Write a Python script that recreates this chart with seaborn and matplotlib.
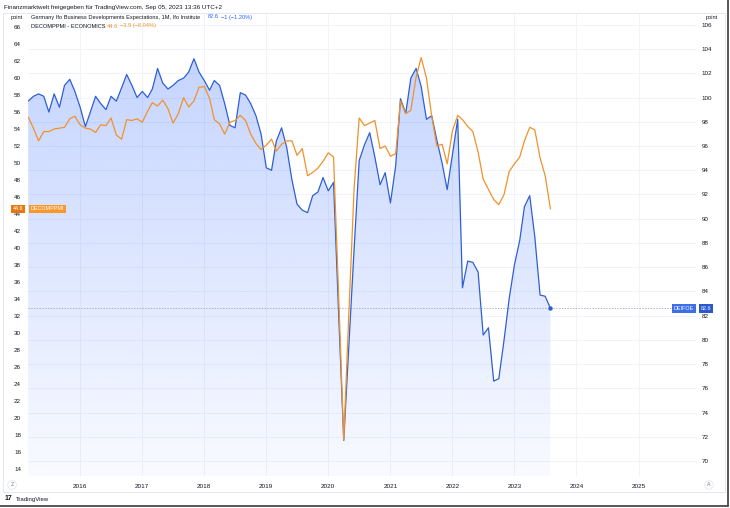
import numpy as np
import pandas as pd
import matplotlib
matplotlib.use("Agg")
import matplotlib.pyplot as plt
import matplotlib.dates as mdates
from matplotlib.colors import to_rgb
from matplotlib.patches import Rectangle
import seaborn as sns

# monthly data, Mar 2015 .. Aug 2023
months = pd.date_range("2015-03-01", "2023-08-01", freq="MS")

ifo_expectations = [
    99.7, 100.1, 100.3, 100.1, 98.8, 100.3, 99.2, 101.0, 101.5, 100.5,
    99.2, 97.6, 98.8, 100.1, 99.5, 99.0, 100.1, 99.7, 100.8, 101.9, 101.0, 100.0,
    100.5, 100.0, 100.7, 102.4, 101.2, 100.7, 101.0, 101.4, 101.6, 102.1, 103.2, 102.1,
    101.4, 100.6, 101.4, 101.0, 99.5, 97.7, 97.5, 100.4, 100.2, 99.5, 98.5, 97.0,
    94.2, 94.0, 96.4, 97.5, 95.9, 93.2, 91.2, 90.7, 90.5, 91.9, 92.2, 93.4,
    92.3, 93.0, 82.5, 71.7, 79.5, 87.5, 94.8, 96.1, 97.1, 95.1, 92.8, 93.8,
    91.3, 94.4, 99.9, 98.7, 101.6, 102.4, 100.9, 98.2, 98.5, 96.5, 94.6, 92.4,
    95.3, 98.2, 84.3, 86.5, 86.4, 85.6, 80.4, 81.0, 76.6, 76.8, 80.0, 83.4,
    86.2, 88.2, 91.0, 91.9, 88.5, 83.7, 83.6, 82.6,
]

composite_pmi = [
    55.4, 54.1, 52.6, 53.7, 53.7, 54.0, 54.1, 54.2, 55.2, 55.5,
    54.5, 54.1, 54.0, 53.6, 54.5, 54.4, 55.3, 53.3, 52.8, 55.1, 55.0, 55.2,
    54.8, 56.1, 57.1, 56.7, 57.4, 56.4, 54.7, 55.8, 57.7, 56.6, 57.3, 58.9,
    59.0, 57.6, 55.1, 54.6, 53.4, 54.8, 55.0, 55.6, 55.0, 53.4, 52.3, 51.6,
    52.1, 52.8, 51.4, 52.2, 52.6, 52.6, 50.9, 51.7, 48.5, 48.9, 49.4, 50.2,
    51.2, 50.7, 35.0, 17.4, 32.3, 47.0, 55.3, 54.4, 54.7, 55.0, 51.7, 52.0,
    50.8, 51.1, 57.3, 55.8, 56.2, 60.1, 62.4, 60.0, 55.5, 52.0, 52.2, 49.9,
    53.8, 55.6, 55.1, 54.3, 53.7, 51.3, 48.1, 46.9, 45.7, 45.1, 46.3, 49.0,
    49.9, 50.7, 52.6, 54.2, 53.9, 50.6, 48.5, 44.6,
]

left_ticks = list(range(14, 68, 2))
right_ticks = list(range(70, 108, 2))
ifo_change = "\u22121 (\u22121.20%)"
pmi_change = "\u22123.9 (\u22128.04%)"

BLUE = "#2962FF"
BLUE_LINE = "#2F5FD3"
ORANGE = "#F0922A"
TXT = "#131722"
GRID = "#F0F3FA"

sns.set_style("white")
plt.rcParams["font.family"] = ["Liberation Sans", "DejaVu Sans"]

W, H = 730, 508
fig = plt.figure(figsize=(W / 100, H / 100), dpi=100)
fig.patch.set_facecolor("white")


def fx(px):
    return px / W


def fy(py):
    return 1 - py / H


ax = fig.add_axes([fx(28), 32 / H, 668 / W, 462 / H])
ax2 = ax.twinx()

xlim = (pd.Timestamp("2015-02-28"), pd.Timestamp("2025-12-05"))
ifo_lim = (68.77, 106.89)
pmi_lim = (13.18, 67.53)

# Ifo expectations: gradient area + line (right scale)
fill = ax.fill_between(months, ifo_expectations, ifo_lim[0], color="none", lw=0)
grad = np.zeros((256, 1, 4))
grad[..., :3] = to_rgb(BLUE)
grad[..., 3] = np.linspace(0.27, 0.03, 256).reshape(-1, 1)
x0, x1 = mdates.date2num(xlim[0]), mdates.date2num(xlim[1])
im = ax.imshow(grad, extent=[x0, x1, ifo_lim[0], max(ifo_expectations)],
               aspect="auto", origin="upper", zorder=1)
im.set_clip_path(fill.get_paths()[0], transform=ax.transData)

sns.lineplot(x=months, y=ifo_expectations, ax=ax, color=BLUE_LINE, linewidth=0.9, zorder=3)
ax.axhline(ifo_expectations[-1], color="#9598A1", lw=0.5, ls=(0, (2, 2)), zorder=2)
ax.plot(months[-1], ifo_expectations[-1], "o", ms=2.2, color=BLUE_LINE, zorder=4)

# composite PMI (left scale)
sns.lineplot(x=months, y=composite_pmi, ax=ax2, color=ORANGE, linewidth=0.9, zorder=3)

ax.set_xlim(*xlim)
ax.set_ylim(*ifo_lim)
ax2.set_ylim(*pmi_lim)

ax.yaxis.tick_right()
ax2.yaxis.tick_left()
ax.set_yticks(right_ticks)
ax2.set_yticks(left_ticks)
ax.xaxis.set_major_locator(mdates.YearLocator())
ax.xaxis.set_major_formatter(mdates.DateFormatter("%Y"))

ax.grid(axis="both", color=GRID, lw=0.7)
ax.set_axisbelow(True)
for a in (ax, ax2):
    a.set_xlabel("")
    a.set_ylabel("")
    for s in a.spines.values():
        s.set_visible(False)
ax.tick_params(axis="y", length=0, pad=4, labelsize=4.5, labelcolor=TXT, right=True, left=False,
               labelright=True, labelleft=False)
ax2.tick_params(axis="y", length=0, pad=5, labelsize=4.5, labelcolor=TXT, left=True, right=False,
                labelleft=True, labelright=False)
ax.tick_params(axis="x", length=0, pad=6, labelsize=4.6, labelcolor=TXT)

# price tags on the scales
tag = dict(fontsize=3.9, color="white", va="center", ha="center")
ax2.annotate("44.6", xy=(fx(18), composite_pmi[-1]), xycoords=("figure fraction", "data"),
             bbox=dict(boxstyle="square,pad=0.3", fc="#E8770E", ec="none"), **tag)
ax2.annotate("DECOMPPMI", xy=(fx(47.5), composite_pmi[-1]), xycoords=("figure fraction", "data"),
             bbox=dict(boxstyle="square,pad=0.3", fc="#F7982A", ec="none"), **tag)
ax.annotate("DEIFOE", xy=(fx(684), ifo_expectations[-1]), xycoords=("figure fraction", "data"),
            bbox=dict(boxstyle="square,pad=0.3", fc="#3D6FE6", ec="none"), annotation_clip=False, **tag)
ax.annotate("82.6", xy=(fx(706), ifo_expectations[-1]), xycoords=("figure fraction", "data"),
            bbox=dict(boxstyle="square,pad=0.3", fc="#2A58CF", ec="none"), annotation_clip=False, **tag)

# header and legend
fig.text(fx(4), fy(7), "Finanzmarktwelt freigegeben f\u00fcr TradingView.com, Sep 05, 2023 13:36 UTC+2",
         fontsize=4.5, color=TXT, va="center")
fig.text(fx(17), fy(17), "point", fontsize=4.1, color=TXT, va="center", ha="center")
fig.text(fx(712), fy(17), "point", fontsize=4.1, color=TXT, va="center", ha="center")
fig.text(fx(31), fy(17), "Germany Ifo Business Developments Expectations, 1M, Ifo Institute",
         fontsize=4.05, color=TXT, va="center")
fig.text(fx(208), fy(17), f"{ifo_expectations[-1]}", fontsize=4.05, color=BLUE, va="center")
fig.text(fx(221), fy(17), ifo_change, fontsize=4.05, color=BLUE, va="center")
fig.text(fx(31), fy(26), "DECOMPPMI - ECONOMICS", fontsize=4.05, color=TXT, va="center")
fig.text(fx(107), fy(26), f"{composite_pmi[-1]}", fontsize=4.05, color=ORANGE, va="center")
fig.text(fx(120), fy(26), pmi_change, fontsize=4.05, color=ORANGE, va="center")

# bottom bar
circ = dict(boxstyle="circle,pad=0.35", fc="white", ec="#E0E3EB", lw=0.5)
fig.text(fx(12), fy(485), "Z", fontsize=3.8, color="#787B86", ha="center", va="center", bbox=circ)
fig.text(fx(709), fy(485), "A", fontsize=3.8, color="#787B86", ha="center", va="center", bbox=circ)
fig.text(fx(5), fy(499), "17", fontsize=5, fontweight="bold", color=TXT, va="center")
fig.text(fx(16), fy(499), "TradingView", fontsize=4.3, color=TXT, va="center")

# frames
fig.add_artist(Rectangle((fx(3), fy(492)), (725 - 3) / W, (492 - 13) / H, transform=fig.transFigure,
                         fill=False, ec="#E0E3EB", lw=0.6))
fig.add_artist(plt.Line2D([0, fx(728)], [fy(506), fy(506)], transform=fig.transFigure, color="#4A4A4A", lw=1.3))
fig.add_artist(plt.Line2D([fx(728), fx(728)], [fy(506), 1], transform=fig.transFigure, color="#4A4A4A", lw=1.3))

fig.savefig("out.png", dpi=100)
